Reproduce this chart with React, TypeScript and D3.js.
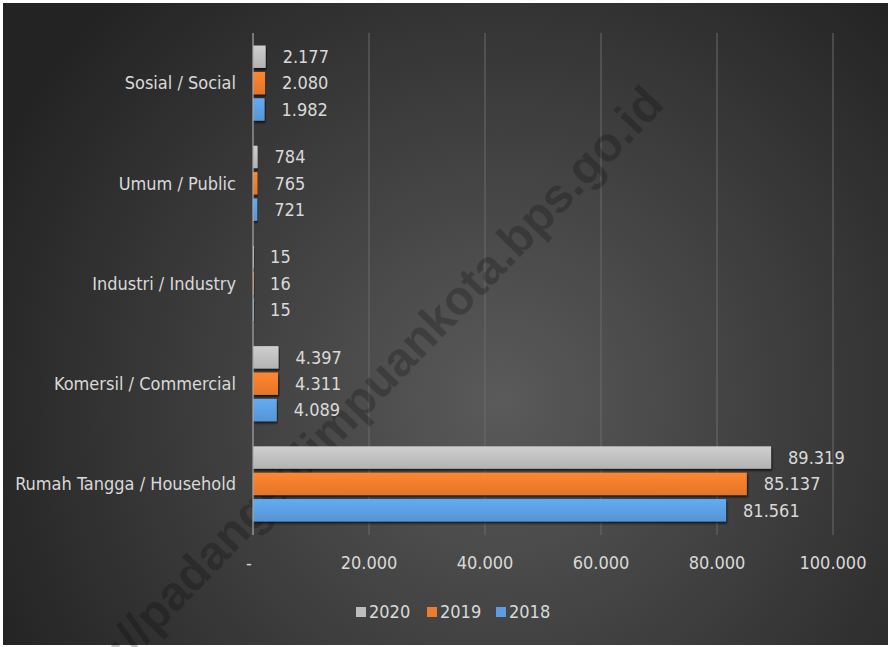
import React from "react";
import * as d3 from "d3";

const categories = [
  "Sosial / Social",
  "Umum / Public",
  "Industri / Industry",
  "Komersil / Commercial",
  "Rumah Tangga / Household",
];
const years = ["2020", "2019", "2018"];
const values2020 = [2177, 784, 15, 4397, 89319];
const values2019 = [2080, 765, 16, 4311, 85137];
const values2018 = [1982, 721, 15, 4089, 81561];
const xTicks = [0, 20000, 40000, 60000, 80000, 100000];
const colors = ["#bdbdbd", "#ef7b2c", "#5b9ddf"];

const FONT = "'Liberation Sans Narrow', 'DejaVu Sans Condensed', sans-serif";

export default function App() {
  const ref = React.useRef<SVGSVGElement>(null);

  React.useEffect(() => {
    document.body.style.margin = "0";
    const width = 891;
    const height = 647;
    const series = [values2020, values2019, values2018];

    const idLocale = d3.formatLocale({
      decimal: ",",
      thousands: ".",
      grouping: [3],
      currency: ["", ""],
    });
    const fmt = idLocale.format(",d");

    const x = d3.scaleLinear().domain([0, 100000]).range([253, 833]);
    const y = d3
      .scaleBand()
      .domain(categories)
      .range([33, 534])
      .paddingInner(0.25)
      .paddingOuter(0.125);
    const ySub = d3
      .scaleBand()
      .domain(years)
      .range([0, y.bandwidth()])
      .paddingInner(0.15);

    const svg = d3
      .select(ref.current)
      .attr("width", width)
      .attr("height", height)
      .attr("viewBox", [0, 0, width, height])
      .style("display", "block");

    const defs = svg.append("defs");
    const bg = defs
      .append("radialGradient")
      .attr("id", "bg")
      .attr("gradientUnits", "userSpaceOnUse")
      .attr("cx", 500)
      .attr("cy", 400)
      .attr("r", 560);
    bg.append("stop").attr("offset", "0%").attr("stop-color", "#5a5a5a");
    bg.append("stop").attr("offset", "100%").attr("stop-color", "#232323");

    colors.forEach((c, i) => {
      const g = defs
        .append("linearGradient")
        .attr("id", `bar${i}`)
        .attr("x1", 0)
        .attr("y1", 0)
        .attr("x2", 0)
        .attr("y2", 1);
      g.append("stop").attr("offset", "0%").attr("stop-color", d3.color(c)!.brighter(0.25).toString());
      g.append("stop").attr("offset", "100%").attr("stop-color", d3.color(c)!.darker(0.15).toString());
    });

    const shadow = defs.append("filter").attr("id", "shadow").attr("x", "-5%").attr("y", "-20%").attr("width", "110%").attr("height", "160%");
    shadow
      .append("feDropShadow")
      .attr("dx", 1)
      .attr("dy", 2)
      .attr("stdDeviation", 1.2)
      .attr("flood-color", "#000")
      .attr("flood-opacity", 0.7);

    svg.append("rect").attr("width", width).attr("height", height).attr("fill", "#ffffff");
    svg
      .append("rect")
      .attr("x", 3)
      .attr("y", 3)
      .attr("width", width - 6)
      .attr("height", height - 5)
      .attr("fill", "url(#bg)");

    // gridlines
    svg
      .append("g")
      .selectAll("line")
      .data(xTicks.slice(1))
      .join("line")
      .attr("x1", (d) => x(d))
      .attr("x2", (d) => x(d))
      .attr("y1", 33)
      .attr("y2", 535)
      .attr("stroke", "#6b6b6b")
      .attr("stroke-width", 1);

    // watermark
    svg
      .append("text")
      .attr("transform", "translate(666,106) rotate(-46)")
      .attr("text-anchor", "end")
      .attr("font-family", "'Liberation Sans', Arial, sans-serif")
      .attr("font-weight", "bold")
      .attr("font-size", 48)
      .attr("fill", "#000")
      .attr("fill-opacity", 0.22)
      .text("http://padangsidimpuankota.bps.go.id");

    // bars
    const groups = svg
      .append("g")
      .selectAll("g")
      .data(categories)
      .join("g")
      .attr("transform", (d) => `translate(0,${y(d)})`);

    groups
      .selectAll("rect")
      .data((_, ci) => years.map((yr, si) => ({ yr, si, v: series[si][ci] })))
      .join("rect")
      .attr("x", x(0))
      .attr("y", (d) => ySub(d.yr)!)
      .attr("width", (d) => Math.max(1, x(d.v) - x(0)))
      .attr("height", ySub.bandwidth())
      .attr("fill", (d) => `url(#bar${d.si})`)
      .attr("filter", "url(#shadow)");

    groups
      .selectAll("text")
      .data((_, ci) => years.map((yr, si) => ({ yr, si, v: series[si][ci] })))
      .join("text")
      .attr("x", (d) => x(d.v) + 17)
      .attr("y", (d) => ySub(d.yr)! + ySub.bandwidth() / 2)
      .attr("dy", "0.35em")
      .attr("font-family", FONT)
      .attr("font-size", 18)
      .attr("fill", "#d9d9d9")
      .text((d) => fmt(d.v));

    // zero axis line
    svg
      .append("line")
      .attr("x1", x(0))
      .attr("x2", x(0))
      .attr("y1", 33)
      .attr("y2", 535)
      .attr("stroke", "#a8a8a8")
      .attr("stroke-width", 1.2);

    // category labels
    svg
      .append("g")
      .selectAll("text")
      .data(categories)
      .join("text")
      .attr("x", 236)
      .attr("y", (d) => y(d)! + y.bandwidth() / 2)
      .attr("dy", "0.35em")
      .attr("text-anchor", "end")
      .attr("font-family", FONT)
      .attr("font-size", 18)
      .attr("fill", "#d9d9d9")
      .text((d) => d);

    // x tick labels
    svg
      .append("g")
      .selectAll("text")
      .data(xTicks)
      .join("text")
      .attr("x", (d) => x(d) - (d === 0 ? 4 : 0))
      .attr("y", 563)
      .attr("dy", "0.35em")
      .attr("text-anchor", "middle")
      .attr("font-family", FONT)
      .attr("font-size", 18)
      .attr("fill", "#d9d9d9")
      .text((d) => (d === 0 ? "-" : fmt(d)));

    // legend
    const legendX = [356, 427, 496];
    const legend = svg
      .append("g")
      .selectAll("g")
      .data(years)
      .join("g")
      .attr("transform", (_, i) => `translate(${legendX[i]},612)`);
    legend
      .append("rect")
      .attr("x", 0)
      .attr("y", -5)
      .attr("width", 10)
      .attr("height", 10)
      .attr("fill", (_, i) => colors[i]);
    legend
      .append("text")
      .attr("x", 13)
      .attr("dy", "0.35em")
      .attr("font-family", FONT)
      .attr("font-size", 18)
      .attr("fill", "#d9d9d9")
      .text((d) => d);

    return () => {
      svg.selectAll("*").remove();
    };
  }, []);

  return <svg ref={ref}></svg>;
}
